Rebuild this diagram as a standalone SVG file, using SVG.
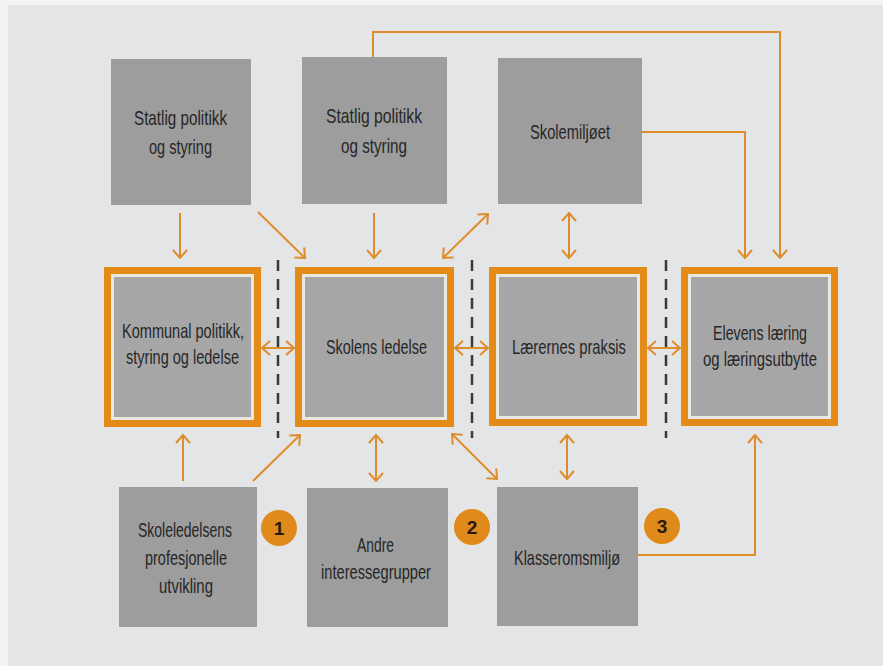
<svg xmlns="http://www.w3.org/2000/svg" width="883" height="666" viewBox="0 0 883 666">
  <defs>
    <marker id="ah" viewBox="0 0 10 16" markerUnits="userSpaceOnUse" markerWidth="10" markerHeight="16" refX="9" refY="8" orient="auto-start-reverse">
      <path d="M1,1 L9,8 L1,15" fill="none" stroke="#DE8C2C" stroke-width="2"/>
    </marker>
    <style>
      .bg { fill: #e4e5e7; }
      .gray { fill: #9d9d9d; }
      .gray2 { fill: #a6a6a6; }
      .orange { fill: #E38B1A; }
      .light { fill: #ebe8e2; }
      .lbl { font-family: "Liberation Sans", "DejaVu Sans", sans-serif; font-size: 21px; fill: #262626; text-anchor: middle; }
      .num { font-family: "Liberation Sans", "DejaVu Sans", sans-serif; font-size: 19px; font-weight: bold; fill: #2a1a0a; text-anchor: middle; }
      .conn { fill: none; stroke: #DE8C2C; stroke-width: 2; }
      .dash { fill: none; stroke: #3a3a3a; stroke-width: 2.5; stroke-dasharray: 11 8; }
      .circ { fill: #E08A1C; }
    </style>
  </defs>

  <rect class="bg" x="0" y="0" width="883" height="666"/>
  <rect x="0" y="0" width="883" height="5" fill="#f3f3f3"/>
  <rect x="0" y="0" width="8" height="666" fill="#f3f3f3"/>

  <g id="dividers">
    <line class="dash" x1="278" y1="260" x2="278" y2="438"/>
    <line class="dash" x1="472" y1="260" x2="472" y2="438"/>
    <line class="dash" x1="666" y1="260" x2="666" y2="438"/>
  </g>

  <g id="connectors">
    <path class="conn" d="M373,57 V32 H780 V258" marker-end="url(#ah)"/>
    <path class="conn" d="M642,132 H745 V258" marker-end="url(#ah)"/>
    <path class="conn" d="M180,213 V258" marker-end="url(#ah)"/>
    <path class="conn" d="M258,212 L305,258" marker-end="url(#ah)"/>
    <path class="conn" d="M374,213 V258" marker-end="url(#ah)"/>
    <path class="conn" d="M443,258 L488,214" marker-start="url(#ah)" marker-end="url(#ah)"/>
    <path class="conn" d="M569,213 V258" marker-start="url(#ah)" marker-end="url(#ah)"/>
    <path class="conn" d="M262,348 H294" marker-start="url(#ah)" marker-end="url(#ah)"/>
    <path class="conn" d="M455,348 H488" marker-start="url(#ah)" marker-end="url(#ah)"/>
    <path class="conn" d="M648,348 H680" marker-start="url(#ah)" marker-end="url(#ah)"/>
    <path class="conn" d="M183,481 V435" marker-end="url(#ah)"/>
    <path class="conn" d="M253,481 L300,435" marker-end="url(#ah)"/>
    <path class="conn" d="M376,481 V435" marker-start="url(#ah)" marker-end="url(#ah)"/>
    <path class="conn" d="M452,434 L497,479" marker-start="url(#ah)" marker-end="url(#ah)"/>
    <path class="conn" d="M567,435 V479" marker-start="url(#ah)" marker-end="url(#ah)"/>
    <path class="conn" d="M638,555 H755 V435" marker-end="url(#ah)"/>
  </g>

  <g id="statlig1">
    <rect class="gray" x="111" y="59" width="140" height="146"/>
    <text class="lbl" x="180.5" y="125" textLength="93" lengthAdjust="spacingAndGlyphs">Statlig politikk</text>
    <text class="lbl" x="180.5" y="154" textLength="63" lengthAdjust="spacingAndGlyphs">og styring</text>
  </g>
  <g id="statlig2">
    <rect class="gray" x="302" y="57" width="145" height="147"/>
    <text class="lbl" x="374" y="123" textLength="96" lengthAdjust="spacingAndGlyphs">Statlig politikk</text>
    <text class="lbl" x="374" y="153" textLength="66" lengthAdjust="spacingAndGlyphs">og styring</text>
  </g>
  <g id="skolemiljoet">
    <rect class="gray" x="498" y="58" width="144" height="146"/>
    <text class="lbl" x="570" y="139" textLength="80" lengthAdjust="spacingAndGlyphs">Skolemiljøet</text>
  </g>

  <g id="kommunal">
    <rect class="orange" x="104" y="267" width="157" height="160"/>
    <rect class="light" x="111" y="274" width="143" height="146"/>
    <rect class="gray2" x="114" y="277" width="137" height="140"/>
    <text class="lbl" x="183" y="338" textLength="122" lengthAdjust="spacingAndGlyphs">Kommunal politikk,</text>
    <text class="lbl" x="182.5" y="364" textLength="113" lengthAdjust="spacingAndGlyphs">styring og ledelse</text>
  </g>
  <g id="skolens-ledelse">
    <rect class="orange" x="295" y="267" width="159" height="160"/>
    <rect class="light" x="302" y="274" width="145" height="146"/>
    <rect class="gray2" x="305" y="277" width="139" height="140"/>
    <text class="lbl" x="376.5" y="354" textLength="101" lengthAdjust="spacingAndGlyphs">Skolens ledelse</text>
  </g>
  <g id="laerernes-praksis">
    <rect class="orange" x="489" y="267" width="158" height="159"/>
    <rect class="light" x="496" y="274" width="144" height="145"/>
    <rect class="gray2" x="499" y="277" width="138" height="139"/>
    <text class="lbl" x="569" y="354" textLength="114" lengthAdjust="spacingAndGlyphs">Lærernes praksis</text>
  </g>
  <g id="elevens-laering">
    <rect class="orange" x="681" y="267" width="157" height="159"/>
    <rect class="light" x="688" y="274" width="143" height="145"/>
    <rect class="gray2" x="691" y="277" width="137" height="139"/>
    <text class="lbl" x="760" y="340" textLength="94" lengthAdjust="spacingAndGlyphs">Elevens læring</text>
    <text class="lbl" x="760" y="366" textLength="114" lengthAdjust="spacingAndGlyphs">og læringsutbytte</text>
  </g>

  <g id="skoleledelsens">
    <rect class="gray" x="119" y="487" width="138" height="140"/>
    <text class="lbl" x="185" y="537" textLength="94" lengthAdjust="spacingAndGlyphs">Skoleledelsens</text>
    <text class="lbl" x="186" y="565" textLength="82" lengthAdjust="spacingAndGlyphs">profesjonelle</text>
    <text class="lbl" x="186" y="593" textLength="54" lengthAdjust="spacingAndGlyphs">utvikling</text>
  </g>
  <g id="andre">
    <rect class="gray" x="307" y="488" width="141" height="139"/>
    <text class="lbl" x="375.5" y="552" textLength="37" lengthAdjust="spacingAndGlyphs">Andre</text>
    <text class="lbl" x="376" y="579" textLength="110" lengthAdjust="spacingAndGlyphs">interessegrupper</text>
  </g>
  <g id="klasseromsmiljo">
    <rect class="gray" x="497" y="487" width="141" height="139"/>
    <text class="lbl" x="567" y="565" textLength="106" lengthAdjust="spacingAndGlyphs">Klasseromsmiljø</text>
  </g>

  <g id="badge1">
    <circle class="circ" cx="279" cy="528" r="18"/>
    <text class="num" x="279" y="535">1</text>
  </g>
  <g id="badge2">
    <circle class="circ" cx="472" cy="527" r="18"/>
    <text class="num" x="472" y="534">2</text>
  </g>
  <g id="badge3">
    <circle class="circ" cx="662" cy="526" r="18"/>
    <text class="num" x="662" y="533">3</text>
  </g>
</svg>
